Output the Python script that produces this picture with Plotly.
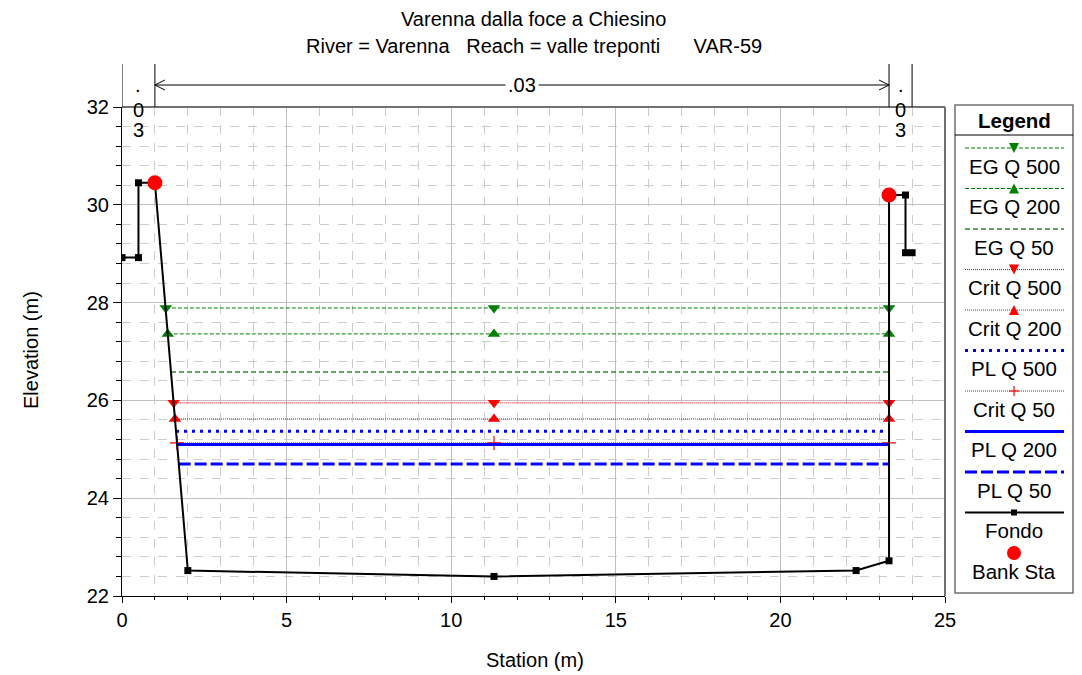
import plotly.graph_objects as go

# ---------------- data ----------------
fondo_station = [0.0, 0.5, 0.5, 1.0, 2.0, 11.3, 22.3, 23.3, 23.3, 23.8, 23.8, 24.0]
fondo_elev = [28.92, 28.92, 30.45, 30.45, 22.52, 22.40, 22.52, 22.72, 30.20, 30.20, 29.02, 29.02]

bank_station = [1.0, 23.3]
bank_elev = [30.45, 30.20]

ws_names = ["EG Q 500", "EG Q 200", "EG Q 50", "Crit Q 500", "Crit Q 200",
            "PL Q 500", "Crit Q 50", "PL Q 200", "PL Q 50"]
ws_elev = [27.89, 27.36, 26.58, 25.95, 25.62, 25.37, 25.13, 25.10, 24.70]
ws_left = [1.33, 1.39, 1.49, 1.57, 1.61, 1.64, 1.67, 1.67, 1.72]
ws_mid = 11.3
ws_right = 23.3

n_boundaries = [0.0, 1.0, 23.3, 24.0]
n_values = [".03", ".03", ".03"]

title_lines = ["Varenna dalla foce a Chiesino",
               "River = Varenna   Reach = valle treponti      VAR-59"]

# ---------------- styles ----------------
GREEN = "#008000"
RED = "#ff0000"
BLUE = "#0000ff"
styles = {
    "EG Q 500": dict(color=GREEN, width=1, dash="4px,2px", symbol="triangle-down"),
    "EG Q 200": dict(color=GREEN, width=1, dash="4px,2px", symbol="triangle-up"),
    "EG Q 50": dict(color="#2e8b2e", width=1.5, dash="5px,3px", symbol=None),
    "Crit Q 500": dict(color=RED, width=1, dash="1px,1px", symbol="triangle-down"),
    "Crit Q 200": dict(color=RED, width=1, dash="1px,1px", symbol="triangle-up"),
    "PL Q 500": dict(color=BLUE, width=3, dash="3px,5px", symbol=None),
    "Crit Q 50": dict(color=RED, width=1, dash="1px,1px", symbol="cross-thin"),
    "PL Q 200": dict(color=BLUE, width=3, dash="solid", symbol=None),
    "PL Q 50": dict(color=BLUE, width=3, dash="12px,4px", symbol=None),
}

FONT = "Arial, Liberation Sans, sans-serif"
FS = 20        # general font size
FS_LEG = 20.5  # legend font size
OFF = 8        # page body margin
L, R, T, B = 122, 945, 107, 596   # plot area in page pixels
W, H = 1082 - 2 * OFF, 675 - OFF


def xp(px):
    return (px - L) / (R - L)


def yp(py):
    return (B - py) / (B - T)


fig = go.Figure()

for name, elev, left in zip(ws_names, ws_elev, ws_left):
    st = styles[name]
    xs = [left, ws_mid, ws_right]
    ys = [elev, elev, elev]
    mode = "lines+markers" if st["symbol"] else "lines"
    marker = None
    if st["symbol"]:
        if st["symbol"] == "cross-thin":
            marker = dict(symbol="cross-thin", size=10, line=dict(color=st["color"], width=1.2))
        else:
            marker = dict(symbol=st["symbol"], size=11, color=st["color"])
    fig.add_trace(go.Scatter(x=xs, y=ys, mode=mode, name=name,
                             line=dict(color=st["color"], width=st["width"], dash=st["dash"]),
                             marker=marker, showlegend=False))

fig.add_trace(go.Scatter(x=fondo_station, y=fondo_elev, mode="lines+markers", name="Fondo",
                         line=dict(color="black", width=2),
                         marker=dict(symbol="square", size=7, color="black"), showlegend=False))
fig.add_trace(go.Scatter(x=bank_station, y=bank_elev, mode="markers", name="Bank Sta",
                         marker=dict(symbol="circle", size=15, color=RED), showlegend=False))

shapes = []
annotations = []

# plot frame top / right (grey)
shapes.append(dict(type="line", xref="paper", yref="paper", x0=0, x1=1, y0=1, y1=1,
                   line=dict(color="#707070", width=2)))
shapes.append(dict(type="line", xref="paper", yref="paper", x0=1, x1=1, y0=0, y1=1,
                   line=dict(color="#707070", width=2)))

# n-value boundaries above plot
for xb in n_boundaries:
    shapes.append(dict(type="line", xref="x", yref="paper", x0=xb, x1=xb,
                       y0=1, y1=yp(64), line=dict(color="black", width=1)))
# arrow for main channel n value
ya = yp(85)
xa0, xa1 = n_boundaries[1], n_boundaries[2]
shapes.append(dict(type="line", xref="x", yref="paper", x0=xa0, x1=xa1, y0=ya, y1=ya,
                   line=dict(color="black", width=1)))
dx = 10 / 32.92
dy = 5 / (B - T)
shapes.append(dict(type="path", xref="x", yref="paper",
                   path=f"M {xa0+dx},{ya+dy} L {xa0},{ya} L {xa0+dx},{ya-dy}",
                   line=dict(color="black", width=1)))
shapes.append(dict(type="path", xref="x", yref="paper",
                   path=f"M {xa1-dx},{ya+dy} L {xa1},{ya} L {xa1-dx},{ya-dy}",
                   line=dict(color="black", width=1)))
annotations.append(dict(x=(xa0 + xa1) / 2, y=ya, xref="x", yref="paper", text=n_values[1],
                        showarrow=False, bgcolor="white", font=dict(size=FS),
                        xanchor="center", yanchor="middle", borderpad=2))
# narrow overbank values written vertically
for (xb0, xb1), nv in zip([(n_boundaries[0], n_boundaries[1]), (n_boundaries[2], n_boundaries[3])],
                          [n_values[0], n_values[2]]):
    xc = (xb0 + xb1) / 2
    for ch, py in zip(nv, [85, 110, 130]):
        annotations.append(dict(x=xc, y=yp(py), xref="x", yref="paper", text=ch,
                                showarrow=False, font=dict(size=FS),
                                xanchor="center", yanchor="middle"))

# titles
for txt, py in zip(title_lines, [19, 46]):
    annotations.append(dict(x=0.5, y=yp(py), xref="paper", yref="paper", text=txt,
                            showarrow=False, font=dict(size=FS),
                            xanchor="center", yanchor="middle"))
# axis titles
annotations.append(dict(x=xp(535), y=yp(660), xref="paper", yref="paper", text="Station (m)",
                        showarrow=False, font=dict(size=FS), xanchor="center", yanchor="middle"))
annotations.append(dict(x=xp(31), y=yp(350), xref="paper", yref="paper", text="Elevation (m)",
                        showarrow=False, font=dict(size=FS), textangle=-90,
                        xanchor="center", yanchor="middle"))

# ---------------- custom legend ----------------
LX0, LX1, LY0, LY1 = 955, 1073, 105, 593
CX = (LX0 + LX1) / 2
SX0, SX1 = LX0 + 10, LX1 - 9
shapes.append(dict(type="rect", xref="paper", yref="paper", x0=xp(LX0), x1=xp(LX1),
                   y0=yp(LY0), y1=yp(LY1), line=dict(color="#707070", width=1.5)))
shapes.append(dict(type="line", xref="paper", yref="paper", x0=xp(LX0), x1=xp(LX1),
                   y0=yp(135), y1=yp(135), line=dict(color="black", width=1)))
annotations.append(dict(x=xp(CX), y=yp(120), xref="paper", yref="paper", text="<b>Legend</b>",
                        showarrow=False, font=dict(size=FS_LEG), xanchor="center", yanchor="middle"))

legend_items = ws_names + ["Fondo", "Bank Sta"]


def tri_path(cx, cy, down, s=5):
    if down:
        pts = [(cx - s, cy - s), (cx + s, cy - s), (cx, cy + s)]
    else:
        pts = [(cx - s, cy + s), (cx + s, cy + s), (cx, cy - s)]
    return "M " + " L ".join(f"{xp(a)},{yp(b)}" for a, b in pts) + " Z"


for i, name in enumerate(legend_items):
    ly = 148 + i * 40.5
    ty = ly + 18
    if name in styles:
        st = styles[name]
        shapes.append(dict(type="line", xref="paper", yref="paper", x0=xp(SX0), x1=xp(SX1),
                           y0=yp(ly), y1=yp(ly),
                           line=dict(color=st["color"], width=st["width"], dash=st["dash"])))
        sym = st["symbol"]
        if sym in ("triangle-down", "triangle-up"):
            shapes.append(dict(type="path", xref="paper", yref="paper",
                               path=tri_path(CX, ly, sym == "triangle-down"),
                               fillcolor=st["color"], line=dict(color=st["color"], width=0)))
        elif sym == "cross-thin":
            shapes.append(dict(type="line", xref="paper", yref="paper", x0=xp(CX - 5), x1=xp(CX + 5),
                               y0=yp(ly), y1=yp(ly), line=dict(color=st["color"], width=1.2)))
            shapes.append(dict(type="line", xref="paper", yref="paper", x0=xp(CX), x1=xp(CX),
                               y0=yp(ly - 5), y1=yp(ly + 5), line=dict(color=st["color"], width=1.2)))
    elif name == "Fondo":
        shapes.append(dict(type="line", xref="paper", yref="paper", x0=xp(SX0), x1=xp(SX1),
                           y0=yp(ly), y1=yp(ly), line=dict(color="black", width=2)))
        shapes.append(dict(type="rect", xref="paper", yref="paper", x0=xp(CX - 3), x1=xp(CX + 3),
                           y0=yp(ly - 3), y1=yp(ly + 3), fillcolor="black", line=dict(width=0)))
    else:
        shapes.append(dict(type="circle", xref="paper", yref="paper", x0=xp(CX - 7), x1=xp(CX + 7),
                           y0=yp(ly - 7), y1=yp(ly + 7), fillcolor=RED, line=dict(width=0)))
    annotations.append(dict(x=xp(CX), y=yp(ty), xref="paper", yref="paper", text=name,
                            showarrow=False, font=dict(size=FS_LEG), xanchor="center", yanchor="middle"))

fig.update_layout(
    width=W, height=H,
    margin=dict(l=L - OFF, r=(W + OFF) - R, t=T - OFF, b=(H + OFF) - B),
    paper_bgcolor="white", plot_bgcolor="white",
    font=dict(family=FONT, color="black", size=FS),
    showlegend=False,
    shapes=shapes, annotations=annotations,
    xaxis=dict(range=[0, 25], dtick=5, tick0=0, showgrid=True, gridcolor="#c0c0c0", gridwidth=1,
               zeroline=False, showline=True, linecolor="black", linewidth=1,
               ticks="outside", ticklen=6, tickcolor="black",
               tickfont=dict(size=FS),
               minor=dict(dtick=1, showgrid=True, gridcolor="#cccccc", griddash="dash",
                          ticks="outside", ticklen=3, tickcolor="black")),
    yaxis=dict(range=[22, 32], dtick=2, tick0=22, showgrid=True, gridcolor="#c0c0c0", gridwidth=1,
               zeroline=False, showline=True, linecolor="black", linewidth=1,
               ticks="outside", ticklen=8, tickcolor="black",
               tickfont=dict(size=FS),
               minor=dict(dtick=0.4, showgrid=True, gridcolor="#cccccc", griddash="dash",
                          ticks="outside", ticklen=5, tickcolor="black")),
)

fig.write_html("out.html")
